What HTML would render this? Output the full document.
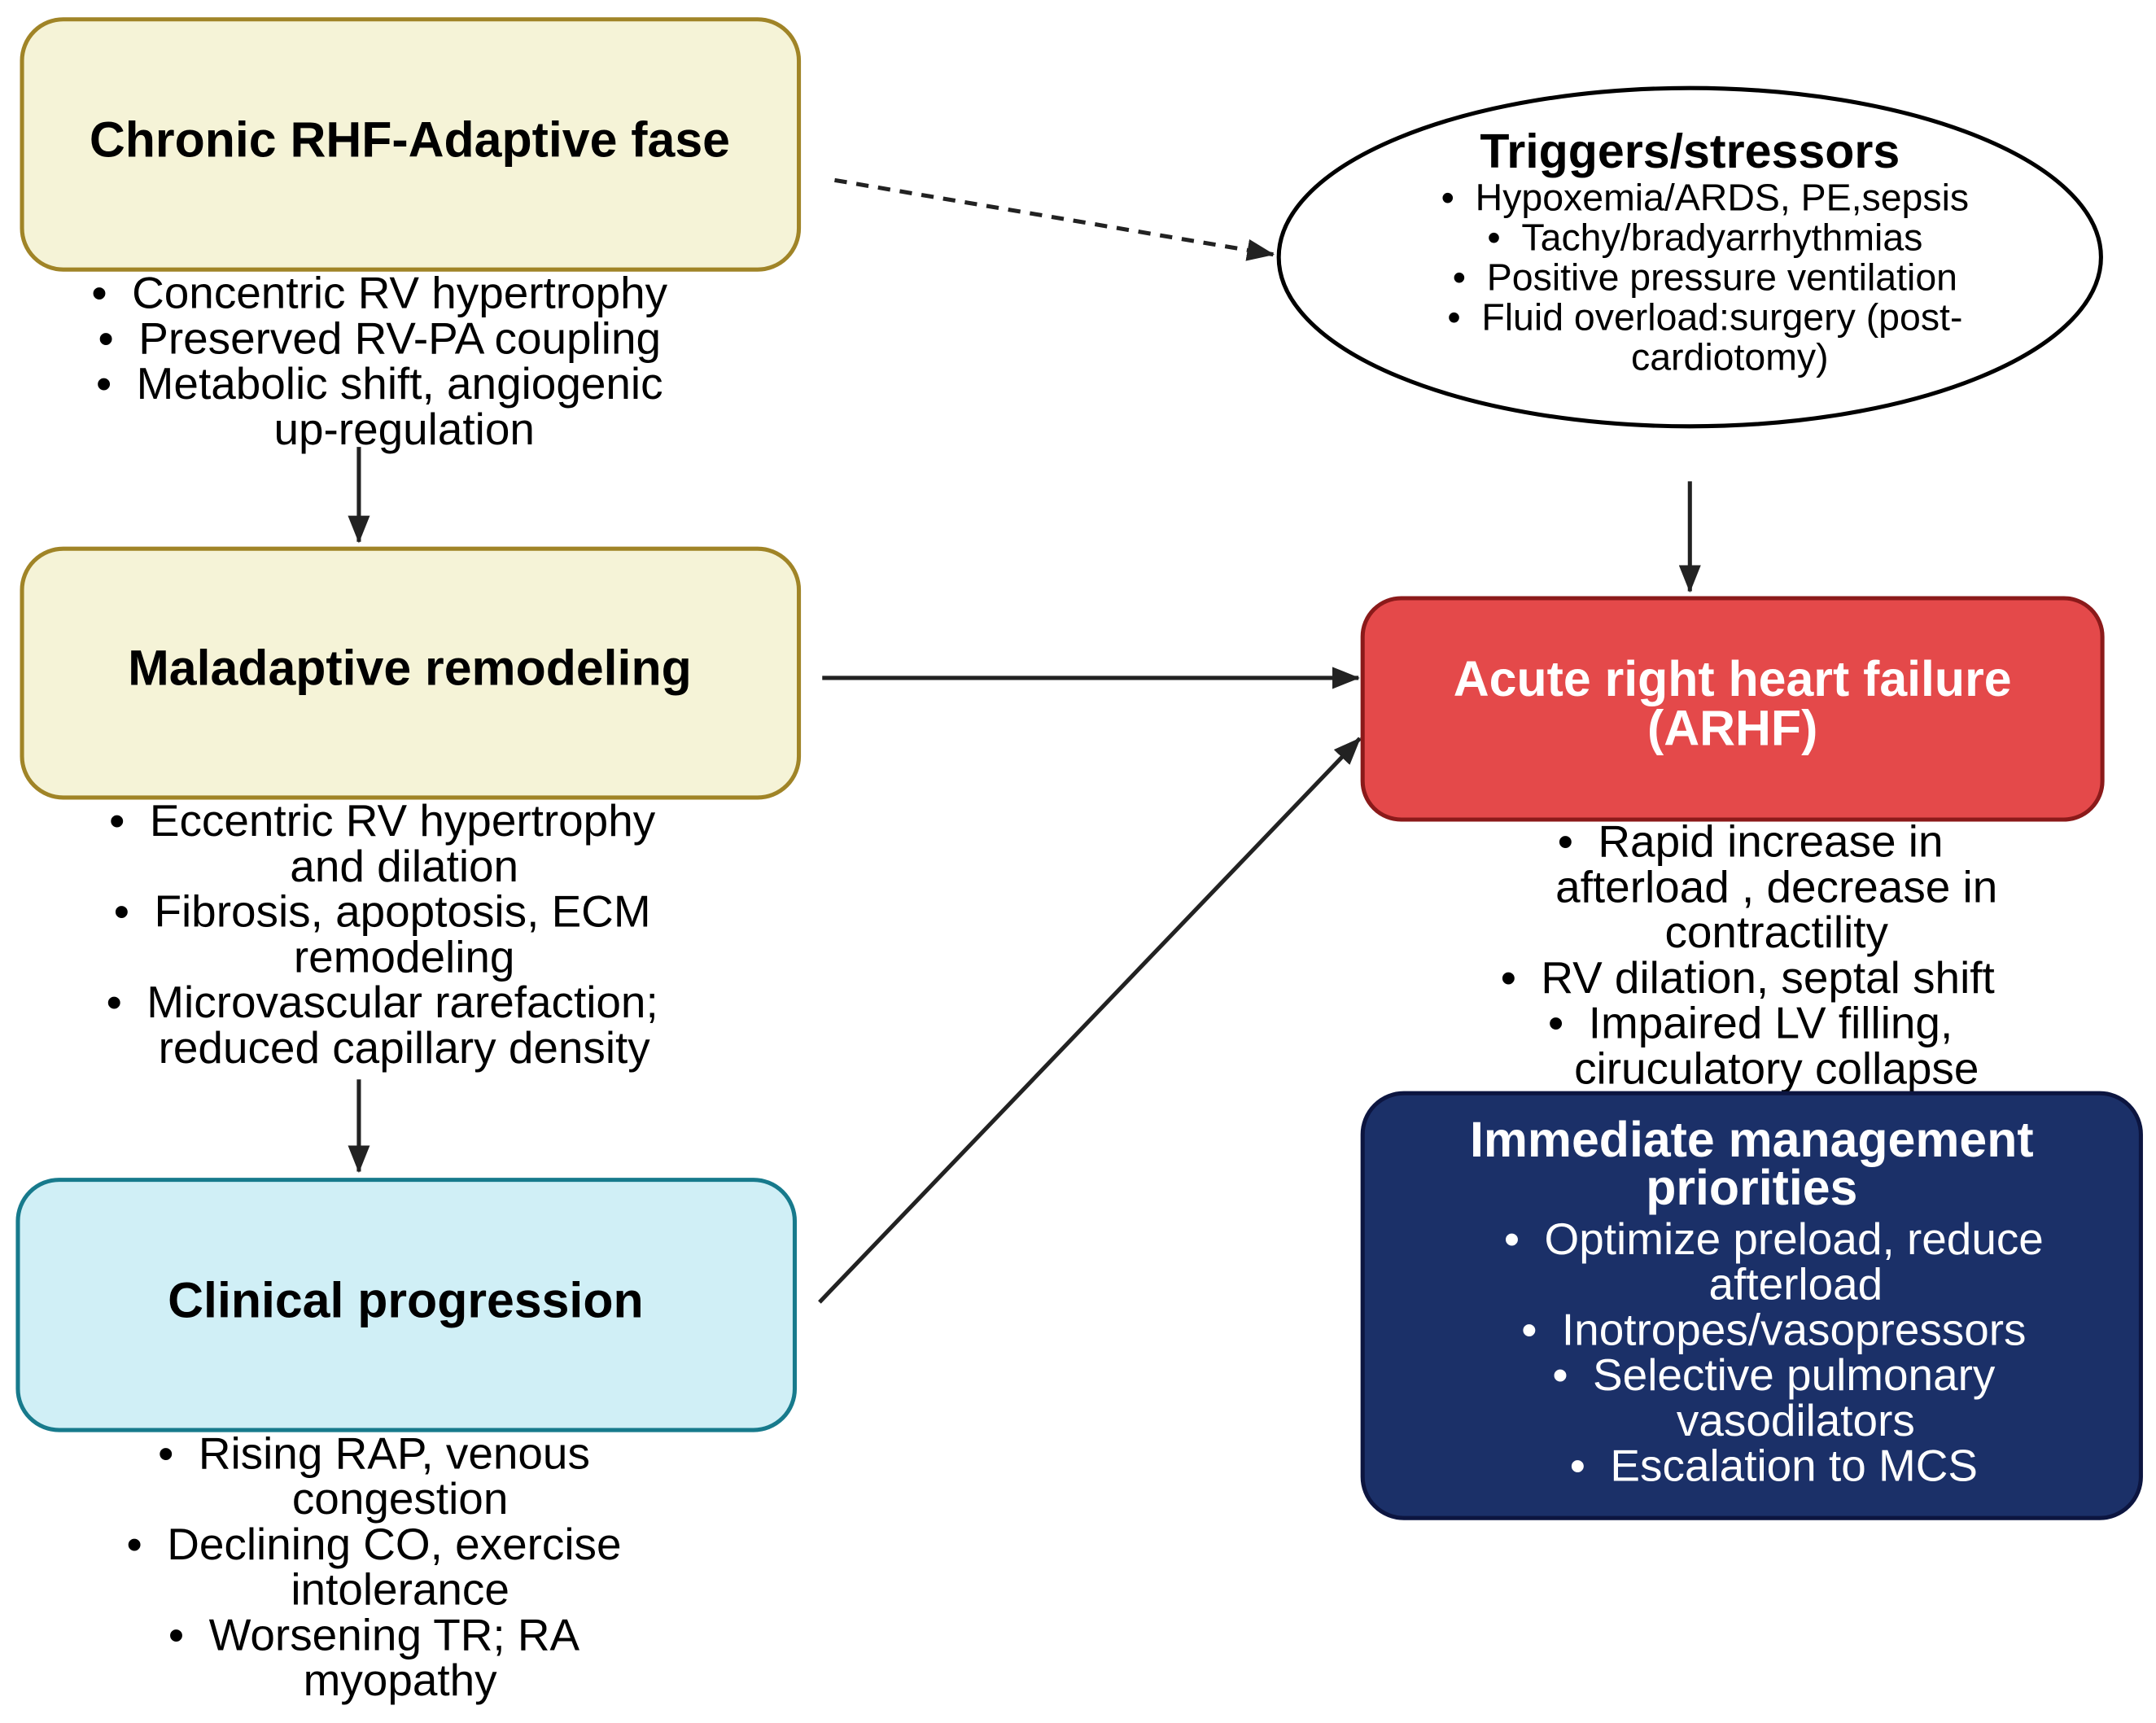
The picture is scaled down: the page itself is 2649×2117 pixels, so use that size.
<!DOCTYPE html>
<html><head><meta charset="utf-8"><style>
html,body{margin:0;padding:0;background:#fff;}
svg{display:block;}
text{font-family:"Liberation Sans",Arial,sans-serif;}
.t{font-weight:bold;font-size:36px;text-anchor:middle;fill:#000;}
.b{font-size:32.5px;text-anchor:middle;fill:#000;}
.s{font-size:27.5px;text-anchor:middle;fill:#000;}
.w{fill:#fff;}
</style></head><body>
<svg width="2649" height="2117" viewBox="0 0 1568 1253" xmlns="http://www.w3.org/2000/svg">
<defs>
<marker id="ah2" markerWidth="20" markerHeight="16" refX="19" refY="8" orient="auto" markerUnits="userSpaceOnUse" viewBox="0 0 20 16">
<path d="M0,0 L20,8 L0,16 z" fill="#222"/></marker>
</defs>
<rect width="1568" height="1253" fill="#fff"/>

<line x1="607" y1="131" x2="926" y2="185" stroke="#222" stroke-width="3" stroke-dasharray="9,7" marker-end="url(#ah2)"/>
<line x1="261" y1="325" x2="261" y2="394" stroke="#222" stroke-width="3" marker-end="url(#ah2)"/>
<line x1="261" y1="785" x2="261" y2="852" stroke="#222" stroke-width="3" marker-end="url(#ah2)"/>
<line x1="1229" y1="350" x2="1229" y2="430" stroke="#222" stroke-width="3" marker-end="url(#ah2)"/>
<line x1="598" y1="493" x2="988" y2="493" stroke="#222" stroke-width="3" marker-end="url(#ah2)"/>
<line x1="596" y1="947" x2="989" y2="537" stroke="#222" stroke-width="3" marker-end="url(#ah2)"/>

<rect x="16" y="14" width="565" height="182" rx="30" fill="#f5f3d7" stroke="#a08427" stroke-width="3"/>
<text class="t" x="298" y="114">Chronic RHF-Adaptive fase</text>
<text class="b" x="276" y="224">•&#160;&#160;Concentric RV hypertrophy</text>
<text class="b" x="276" y="257">•&#160;&#160;Preserved RV-PA coupling</text>
<text class="b" x="276" y="290">•&#160;&#160;Metabolic shift, angiogenic</text>
<text class="b" x="294" y="323">up-regulation</text>

<rect x="16" y="399" width="565" height="181" rx="30" fill="#f5f3d7" stroke="#a08427" stroke-width="3"/>
<text class="t" x="298" y="498">Maladaptive remodeling</text>
<text class="b" x="278" y="608">•&#160;&#160;Eccentric RV hypertrophy</text>
<text class="b" x="294" y="641">and dilation</text>
<text class="b" x="278" y="674">•&#160;&#160;Fibrosis, apoptosis, ECM</text>
<text class="b" x="294" y="707">remodeling</text>
<text class="b" x="278" y="740">•&#160;&#160;Microvascular rarefaction;</text>
<text class="b" x="294" y="773">reduced capillary density</text>

<rect x="13" y="858" width="565" height="182" rx="30" fill="#d0eff6" stroke="#177a8c" stroke-width="3"/>
<text class="t" x="295" y="958">Clinical progression</text>
<text class="b" x="272" y="1068">•&#160;&#160;Rising RAP, venous</text>
<text class="b" x="291" y="1101">congestion</text>
<text class="b" x="272" y="1134">•&#160;&#160;Declining CO, exercise</text>
<text class="b" x="291" y="1167">intolerance</text>
<text class="b" x="272" y="1200">•&#160;&#160;Worsening TR; RA</text>
<text class="b" x="291" y="1233">myopathy</text>

<ellipse cx="1229" cy="187" rx="299" ry="123" fill="#fff" stroke="#000" stroke-width="3"/>
<text class="t" x="1229" y="122" style="font-size:35px">Triggers/stressors</text>
<text class="s" x="1240" y="153">•&#160;&#160;Hypoxemia/ARDS, PE,sepsis</text>
<text class="s" x="1240" y="182">•&#160;&#160;Tachy/bradyarrhythmias</text>
<text class="s" x="1240" y="211">•&#160;&#160;Positive pressure ventilation</text>
<text class="s" x="1240" y="240">•&#160;&#160;Fluid overload:surgery (post-</text>
<text class="s" x="1258" y="269">cardiotomy)</text>

<rect x="991" y="435" width="538" height="161" rx="28" fill="#e4494a" stroke="#8b1a1a" stroke-width="3"/>
<text class="t w" x="1260" y="506">Acute right heart failure</text>
<text class="t w" x="1260" y="542">(ARHF)</text>
<text class="b" x="1273" y="623">•&#160;&#160;Rapid increase in</text>
<text class="b" x="1292" y="656">afterload , decrease in</text>
<text class="b" x="1292" y="689">contractility</text>
<text class="b" x="1271" y="722">•&#160;&#160;RV dilation, septal shift</text>
<text class="b" x="1273" y="755">•&#160;&#160;Impaired LV filling,</text>
<text class="b" x="1292" y="788">ciruculatory collapse</text>

<rect x="991" y="795" width="566" height="309" rx="30" fill="#1b3068" stroke="#0c1540" stroke-width="3"/>
<text class="t w" x="1274" y="841">Immediate management</text>
<text class="t w" x="1274" y="876">priorities</text>
<text class="b w" x="1290" y="912">•&#160;&#160;Optimize preload, reduce</text>
<text class="b w" x="1306" y="945">afterload</text>
<text class="b w" x="1290" y="978">•&#160;&#160;Inotropes/vasopressors</text>
<text class="b w" x="1290" y="1011">•&#160;&#160;Selective pulmonary</text>
<text class="b w" x="1306" y="1044">vasodilators</text>
<text class="b w" x="1290" y="1077">•&#160;&#160;Escalation to MCS</text>
</svg>
</body></html>
